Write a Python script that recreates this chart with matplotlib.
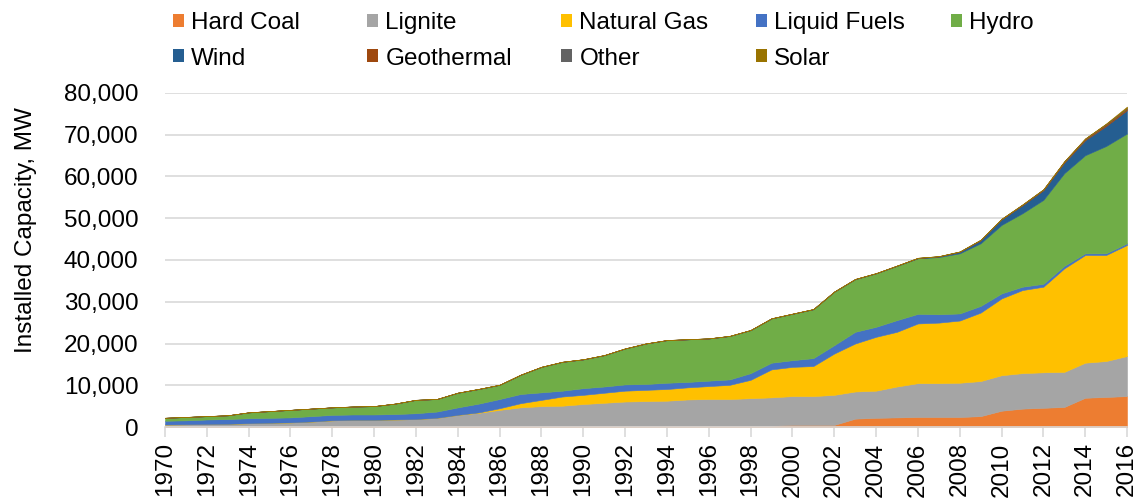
import matplotlib
matplotlib.use('Agg')
import matplotlib.pyplot as plt
from matplotlib.patches import Patch
from matplotlib.ticker import FuncFormatter

plt.rcParams['font.family'] = ['Liberation Sans', 'DejaVu Sans']

# installed capacity by source, MW
years = list(range(1970, 2017))

hard_coal = [200, 200, 200, 200, 200, 200, 200,
             300, 300, 300, 300, 300, 300, 300, 300, 300, 300, 300, 300, 300,
             300, 300, 300, 300, 300, 300, 300, 300, 300, 300,
             500, 500, 500, 2000, 2200, 2300, 2400, 2400, 2400, 2600,
             3900, 4400, 4600, 4800, 7000, 7200, 7400]
lignite = [400, 450, 500, 550, 700, 800, 900,
           1000, 1300, 1400, 1400, 1500, 1600, 1900, 2600, 3100, 3800, 4400, 4700, 4800,
           5200, 5500, 5800, 5900, 6000, 6300, 6400, 6400, 6600, 6800,
           6900, 6900, 7200, 6500, 6500, 7400, 8100, 8100, 8200, 8400,
           8500, 8500, 8500, 8400, 8400, 8600, 9600]
natural_gas = [0, 0, 0, 0, 0, 0, 0, 0, 0, 0, 0, 0, 0, 0, 0,
               100, 400, 1000, 1500, 2200, 2200, 2400, 2600, 2700, 2800,
               2900, 3100, 3400, 4400, 6700,
               7000, 7200, 9900, 11500, 12900, 13100, 14300, 14500, 14900, 16400,
               18400, 19900, 20500, 24800, 25800, 25400, 26600]
liquid_fuels = [900, 950, 1100, 1150, 1200, 1200, 1200, 1300, 1300, 1300,
                1300, 1300, 1400, 1500, 1800, 2100, 2200, 2200, 1800, 1400,
                1600, 1500, 1500, 1400, 1500, 1300, 1300, 1300, 1600, 1600,
                1600, 1900, 2000, 2800, 2400, 2800, 2300, 2000, 1700, 1600,
                1200, 800, 700, 600, 400, 400, 400]
hydro = [700, 800, 800, 900, 1400, 1600, 1800, 1800, 1800, 1900,
         2000, 2500, 3200, 3000, 3500, 3500, 3400, 4600, 6100, 6900,
         6900, 7500, 8600, 9700, 10200, 10200, 10100, 10400, 10300, 10600,
         11100, 11700, 12800, 12600, 12800, 13000, 13300, 13700, 14400, 15000,
         16400, 17600, 20100, 22200, 23500, 25700, 26300]
wind = [0] * 28 + [10, 10, 20, 20, 20, 20, 20, 20, 60, 150, 360, 700,
                   1300, 1900, 2300, 2500, 3600, 4800, 5600]
geothermal = [0] * 14 + [18] * 22 + [25, 25, 30, 80, 90, 110, 150, 250, 300, 400, 350]
other = [20] * 33 + [30, 30, 40, 50, 50, 60, 80, 90, 100, 100, 100, 100, 100, 150]
solar = [0] * 44 + [30, 100, 350]

series = [hard_coal, lignite, natural_gas, liquid_fuels, hydro,
          wind, geothermal, other, solar]
names = ['Hard Coal', 'Lignite', 'Natural Gas', 'Liquid Fuels', 'Hydro',
         'Wind', 'Geothermal', 'Other', 'Solar']
colors = ['#ED7D31', '#A5A5A5', '#FFC000', '#4472C4', '#70AD47',
          '#255E91', '#9E480E', '#636363', '#997300']

W, H = 1141, 503
fig = plt.figure(figsize=(W / 100, H / 100), dpi=100)
ax = fig.add_axes([165 / W, 1 - 427 / H, (1127 - 165) / W, (427 - 93) / H])

polys = ax.stackplot(years, *series, colors=colors, labels=names, zorder=2)
for p, c in zip(polys, colors):
    p.set_edgecolor(c)
    p.set_linewidth(0.4)

ax.set_xlim(1970, 2016)
ax.set_ylim(0, 80000)
ax.set_yticks(range(0, 80001, 10000))
ax.yaxis.set_major_formatter(FuncFormatter(lambda v, _: f'{int(v):,}'))
ax.set_xticks(range(1970, 2017, 2))
ax.set_xticklabels([str(y) for y in range(1970, 2017, 2)], rotation=90)

fs = 17.5
ax.grid(axis='y', color='#D9D9D9', linewidth=1.2, zorder=0)
ax.set_axisbelow(True)
for s in ['top', 'right', 'left']:
    ax.spines[s].set_visible(False)
ax.spines['bottom'].set_color('#D9D9D9')
ax.spines['bottom'].set_linewidth(1.2)
ax.spines['bottom'].set_zorder(3)

ax.tick_params(axis='y', length=0, pad=19, labelsize=fs, labelcolor='black')
ax.tick_params(axis='x', length=7, width=1.2, color='#D9D9D9', pad=4,
               labelsize=fs, labelcolor='black')

ax.set_ylabel('Installed Capacity, MW', fontsize=fs)
ax.yaxis.set_label_coords(-0.133, 0.59)

# legend: Excel uses equal-width columns, so one small legend per column
handles = [Patch(facecolor=c, edgecolor='none') for c in colors]
col_x = [161, 355, 549, 744, 939]
for i, x in enumerate(col_x):
    idx = [i, i + 5] if i + 5 < len(names) else [i]
    leg = fig.legend([handles[j] for j in idx], [names[j] for j in idx],
                     loc='upper left', bbox_to_anchor=(x / W, 1 - 0 / H),
                     frameon=False, fontsize=fs, borderpad=0,
                     handlelength=0.45, handleheight=0.45, handletextpad=0.3,
                     labelspacing=0.55)

fig.savefig('out.png', dpi=100)
